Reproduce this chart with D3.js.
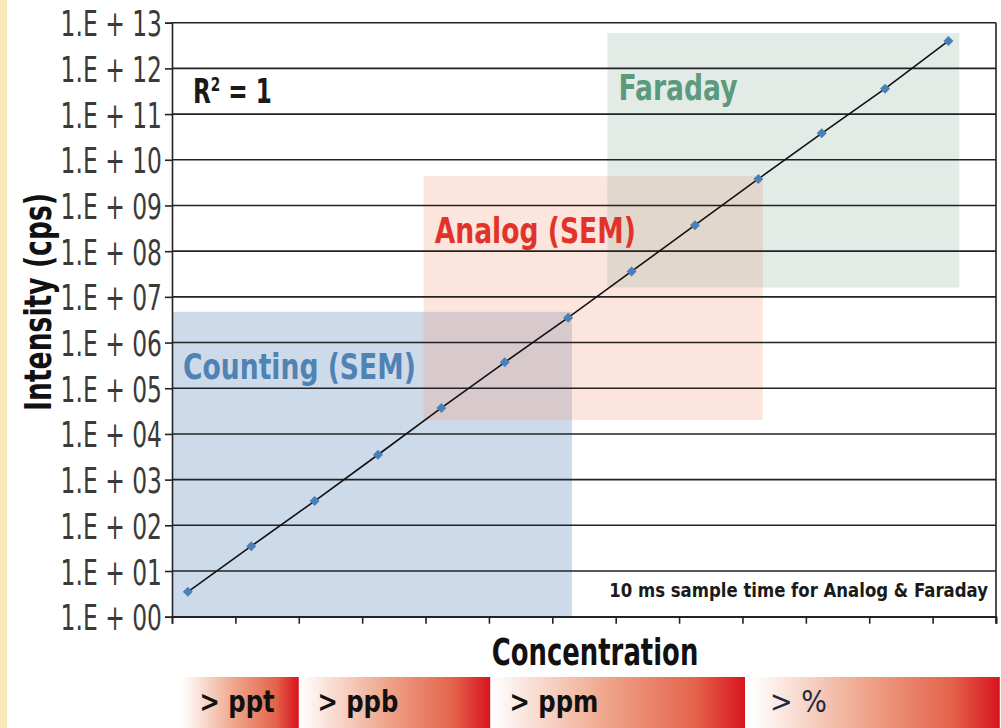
<!DOCTYPE html>
<html>
<head>
<meta charset="utf-8">
<script src="https://cdnjs.cloudflare.com/ajax/libs/d3/7.8.5/d3.min.js"></script>
<style>
  body { margin: 0; background: #fff; }
  svg { display: block; }
  text { font-family: "DejaVu Sans", "Liberation Sans", sans-serif; }
</style>
</head>
<body>
<div id="chart"></div>
<script>
// calibration points (concentration steps, intensity in cps)
const concentration = [0.25, 1.25, 2.25, 3.25, 4.25, 5.25, 6.25, 7.25, 8.25, 9.25, 10.25, 11.25, 12.25];
const intensity = [3.5, 35, 340, 3.5e3, 3.7e4, 3.7e5, 3.5e6, 3.6e7, 3.7e8, 3.8e9, 3.8e10, 3.6e11, 4.0e12];

const yTicks = [1e0, 1e1, 1e2, 1e3, 1e4, 1e5, 1e6, 1e7, 1e8, 1e9, 1e10, 1e11, 1e12, 1e13];
const yTickLabels = ['1.E + 00', '1.E + 01', '1.E + 02', '1.E + 03', '1.E + 04', '1.E + 05', '1.E + 06',
                     '1.E + 07', '1.E + 08', '1.E + 09', '1.E + 10', '1.E + 11', '1.E + 12', '1.E + 13'];

// detector ranges
const zoneNames = ['Counting (SEM)', 'Analog (SEM)', 'Faraday'];
const zoneFrom = [0, 3.97, 6.87];
const zoneTo = [6.31, 9.32, 12.42];
const zoneLow = [1, 2.0e4, 1.6e7];
const zoneHigh = [4.7e6, 4.4e9, 5.9e12];

// concentration bands under the axis
const bandLabels = ['> ppt', '> ppb', '> ppm', '> %'];
const bandFrom = [0.15, 2.01, 5.04, 9.15];
const bandTo = [2.0, 5.02, 9.04, 13.06];

const W = 1001, H = 728;
const margin = { top: 22.7, right: 5, bottom: 111.3, left: 172 };

const svg = d3.select('#chart')
              .append('svg')
              .attr('width', W)
              .attr('height', H);

// narrow type: squeeze text horizontally around its anchor
const squeeze = (px, py, sx, rot) =>
  `translate(${px}, ${py})` + (rot ? ` rotate(${rot})` : '') + ` scale(${sx}, 1)`;

// yellow strip on the left edge
svg.append('rect')
   .attr('x', 0).attr('y', 0)
   .attr('width', 7).attr('height', H)
   .attr('fill', '#f8e8bc');

const x = d3.scaleLinear()
            .domain([0, 13])
            .range([margin.left, W - margin.right]);

const y = d3.scaleLog()
            .domain([1, 1e13])
            .range([H - margin.bottom, margin.top]);

// zones
const zoneFill = ['#5a86b5', '#f4a080', '#8fb0a0'];
const zoneOpacity = [0.3, 0.28, 0.25];
const zoneText = ['#4f83b3', '#e2332b', '#5b9a7c'];

svg.append('g')
   .selectAll('rect')
   .data(zoneNames)
   .enter()
   .append('rect')
   .attr('x', (d, i) => x(zoneFrom[i]))
   .attr('y', (d, i) => y(zoneHigh[i]))
   .attr('width', (d, i) => x(zoneTo[i]) - x(zoneFrom[i]))
   .attr('height', (d, i) => y(zoneLow[i]) - y(zoneHigh[i]))
   .attr('fill', (d, i) => zoneFill[i])
   .attr('fill-opacity', (d, i) => zoneOpacity[i]);

// grid lines
svg.append('g')
   .selectAll('line')
   .data(yTicks)
   .enter()
   .append('line')
   .attr('x1', x(0)).attr('x2', x(13))
   .attr('y1', d => y(d)).attr('y2', d => y(d))
   .attr('stroke', '#222')
   .attr('stroke-width', 1.6);

// zone labels
svg.append('g')
   .selectAll('text')
   .data(zoneNames)
   .enter()
   .append('text')
   .attr('transform', (d, i) => squeeze(x(zoneFrom[i]) + 11, y(zoneHigh[i]) + 67, 0.76))
   .attr('fill', (d, i) => zoneText[i])
   .attr('font-size', 35)
   .attr('font-weight', 'bold')
   .text(d => d);

// axes
const xAxis = d3.axisBottom(x).ticks(13).tickSize(7).tickFormat('');
const gx = svg.append('g')
   .attr('transform', `translate(0, ${y(1)})`)
   .call(xAxis);
gx.select('.domain').attr('stroke', '#222').attr('stroke-width', 1.6);
gx.selectAll('.tick line').attr('stroke', '#222').attr('stroke-width', 1.6);

const yAxis = d3.axisLeft(y)
                .tickValues(yTicks)
                .tickSize(7)
                .tickFormat((d, i) => yTickLabels[i]);
const gy = svg.append('g')
   .attr('transform', `translate(${x(0)}, 0)`)
   .call(yAxis);
gy.select('.domain').attr('stroke', '#222').attr('stroke-width', 1.6);
gy.selectAll('.tick line').attr('stroke', '#222').attr('stroke-width', 1.6);
gy.selectAll('.tick text')
  .attr('x', null)
  .attr('dy', null)
  .attr('transform', squeeze(-10, 13, 0.65))
  .attr('font-size', 36)
  .attr('font-family', '"DejaVu Sans", sans-serif')
  .attr('fill', '#3a3a3a');

// right border
svg.append('line')
   .attr('x1', x(13)).attr('x2', x(13))
   .attr('y1', y(1e13)).attr('y2', y(1) + 7)
   .attr('stroke', '#222')
   .attr('stroke-width', 1.6);

// fit line and points
const line = d3.line()
               .x((d, i) => x(concentration[i]))
               .y(d => y(d));

svg.append('path')
   .datum(intensity)
   .attr('d', line)
   .attr('fill', 'none')
   .attr('stroke', '#111')
   .attr('stroke-width', 1.6);

svg.append('g')
   .selectAll('path')
   .data(intensity)
   .enter()
   .append('path')
   .attr('d', d3.symbol().type(d3.symbolSquare).size(50))
   .attr('transform', (d, i) => `translate(${x(concentration[i])}, ${y(d)}) rotate(45)`)
   .attr('fill', '#4a80b8');

// R squared
const r2 = svg.append('text')
   .attr('transform', squeeze(193, 103, 0.68))
   .attr('font-size', 34)
   .attr('font-weight', 'bold')
   .attr('fill', '#1a1a1a');
r2.append('tspan').text('R');
r2.append('tspan').attr('font-size', 20).attr('dy', -12).text('2');
r2.append('tspan').attr('dy', 12).text(' = 1');

// note
svg.append('text')
   .attr('transform', squeeze(988, 597, 0.87))
   .attr('text-anchor', 'end')
   .attr('font-size', 19)
   .attr('font-weight', 'bold')
   .attr('fill', '#1a1a1a')
   .text('10 ms sample time for Analog & Faraday');

// axis titles
svg.append('text')
   .attr('transform', squeeze(595, 665, 0.7))
   .attr('text-anchor', 'middle')
   .attr('font-size', 37)
   .attr('font-weight', 'bold')
   .attr('fill', '#111')
   .text('Concentration');

svg.append('text')
   .attr('transform', squeeze(51, 302, 0.72, -90))
   .attr('text-anchor', 'middle')
   .attr('font-size', 37)
   .attr('font-weight', 'bold')
   .attr('fill', '#111')
   .text('Intensity (cps)');

// bands
const defs = svg.append('defs');
const grad = defs.append('linearGradient').attr('id', 'bandGrad');
grad.append('stop').attr('offset', '0%').attr('stop-color', '#ffffff');
grad.append('stop').attr('offset', '45%').attr('stop-color', '#efa68c');
grad.append('stop').attr('offset', '80%').attr('stop-color', '#e4644c');
grad.append('stop').attr('offset', '100%').attr('stop-color', '#d8141e');

const bands = svg.append('g')
   .selectAll('g')
   .data(bandLabels)
   .enter()
   .append('g');

bands.append('rect')
   .attr('x', (d, i) => x(bandFrom[i]))
   .attr('y', 677)
   .attr('width', (d, i) => x(bandTo[i]) - x(bandFrom[i]))
   .attr('height', H - 677)
   .attr('fill', 'url(#bandGrad)');

bands.append('text')
   .attr('transform', (d, i) => squeeze(x(bandFrom[i]) + 18, 712, i === 3 ? 0.9 : 0.81))
   .attr('font-size', 30)
   .attr('font-weight', (d, i) => i === 3 ? 'normal' : 'bold')
   .attr('fill', (d, i) => i === 3 ? '#1c2a44' : '#111')
   .text(d => d);
</script>
</body>
</html>
